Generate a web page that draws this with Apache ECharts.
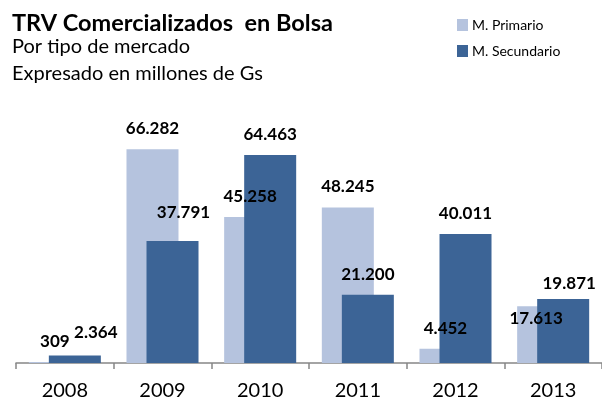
<!DOCTYPE html>
<html>
<head>
<meta charset="utf-8">
<script src="https://cdn.jsdelivr.net/npm/echarts@6/dist/echarts.min.js"></script>
<style>
  html, body { margin: 0; padding: 0; background: #fff; }
  #chart { width: 602px; height: 401px; }
</style>
</head>
<body>
<div id="chart"></div>
<script>
var years = ['2008', '2009', '2010', '2011', '2012', '2013'];
var primario = [309, 66282, 45258, 48245, 4452, 17613];
var secundario = [2364, 37791, 64463, 21200, 40011, 19871];

// label nudges [dx, dy] where Excel labels were moved by hand
var nudgePrim = [[0, 0], [0, 0], [0, 0], [0, 0], [0, 0], [-7, 33]];
var nudgeSec = [[21, -2], [11, -8], [0, 0], [0, 0], [0, 0], [6, 5]];

function fmt(v) {
    return String(v).replace(/\B(?=(\d{3})+(?!\d))/g, '.');
}

function withNudge(vals, nudge) {
    return vals.map(function (v, i) {
        return { value: v, label: { offset: nudge[i] } };
    });
}

var font = 'Lato, "Open Sans", sans-serif';
var myChart = echarts.init(document.getElementById('chart'));
var option = {
    animation: false,
    textStyle: { fontFamily: font },
    title: {
        text: 'TRV Comercializados  en Bolsa',
        subtext: 'Por tipo de mercado\nExpresado en millones de Gs',
        left: 7,
        top: 4,
        itemGap: -4,
        textStyle: { fontFamily: font, fontSize: 23.5, fontWeight: 'bold', color: '#000', lineHeight: 28 },
        subtextStyle: { fontFamily: font, fontSize: 20, color: '#000', lineHeight: 27 }
    },
    legend: {
        orient: 'vertical',
        left: 452,
        top: 13,
        itemWidth: 11,
        itemHeight: 12,
        itemGap: 12,
        icon: 'rect',
        textStyle: { fontFamily: font, fontSize: 14, color: '#000', padding: [0, 0, 0, -1] },
        data: ['M. Primario', 'M. Secundario']
    },
    grid: { left: 16, top: 105, width: 588, bottom: 38 },
    xAxis: {
        type: 'category',
        data: years,
        axisLine: { lineStyle: { color: '#868686', width: 1.5 } },
        axisTick: { show: true, length: 6, interval: 0, lineStyle: { color: '#868686', width: 1.5 } },
        axisLabel: { margin: 18, fontSize: 20, color: '#000', fontFamily: font, interval: 0 }
    },
    yAxis: {
        type: 'value',
        min: 0,
        max: 80000,
        show: false,
        splitLine: { show: false }
    },
    series: [{
        name: 'M. Primario',
        type: 'bar',
        barWidth: 52,
        barGap: '-61.5%',
        itemStyle: { color: '#b5c3de' },
        label: {
            show: true, position: 'top', distance: 12,
            fontFamily: font, fontSize: 17, fontWeight: 'bold', color: '#000',
            formatter: function (p) { return fmt(p.value); }
        },
        data: withNudge(primario, nudgePrim)
    }, {
        name: 'M. Secundario',
        type: 'bar',
        barWidth: 52,
        itemStyle: { color: '#3c6496' },
        label: {
            show: true, position: 'top', distance: 12,
            fontFamily: font, fontSize: 17, fontWeight: 'bold', color: '#000',
            formatter: function (p) { return fmt(p.value); }
        },
        data: withNudge(secundario, nudgeSec)
    }]
};
myChart.setOption(option);
</script>
</body>
</html>
